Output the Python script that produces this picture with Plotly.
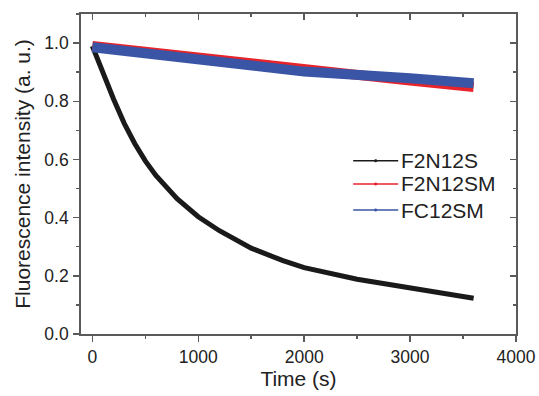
import plotly.graph_objects as go

# ---- data ----
t_black = [0, 100, 200, 300, 400, 500, 600, 800, 1000, 1200, 1500, 1800, 2000, 2500, 3000, 3600]
v_black = [0.99, 0.895, 0.808, 0.725, 0.655, 0.595, 0.545, 0.465, 0.403, 0.355, 0.295, 0.252, 0.228, 0.188, 0.157, 0.123]

t_red = [0, 1000, 2000, 3000, 3600]
v_red = [0.990, 0.948, 0.906, 0.871, 0.849]

t_blue = [0, 1000, 2000, 3000, 3600]
v_blue = [0.986, 0.945, 0.902, 0.879, 0.862]

names = ["F2N12S", "F2N12SM", "FC12SM"]
colors = ["#1a1a1a", "#e8232a", "#3a55a5"]
widths = [5, 10, 10]

x_ticks = [0, 1000, 2000, 3000, 4000]
y_ticks = [0.0, 0.2, 0.4, 0.6, 0.8, 1.0]
y_tick_text = ["0.0", "0.2", "0.4", "0.6", "0.8", "1.0"]

x_range = [-107, 4000]
y_range = [0, 1.10]

series = [(t_black, v_black), (t_red, v_red), (t_blue, v_blue)]

fig = go.Figure()
for i, (tx, vy) in enumerate(series):
    fig.add_trace(go.Scatter(
        x=tx, y=vy, mode="lines", name=names[i],
        line=dict(color=colors[i], width=widths[i]),
        showlegend=False, hoverinfo="skip",
        xaxis="x2" if i == 2 else "x", yaxis="y2" if i == 2 else "y",
    ))

axis_col = "#5a5a5a"
font_fam = "Liberation Sans, Arial, sans-serif"
txt_col = "#222222"

# manual legend (paper coordinates of the plot area)
leg_rows_y = [0.5416, 0.4688, 0.3875]
leg_x0, leg_x1, leg_tx = 0.6257, 0.7292, 0.7300
for i in range(3):
    fig.add_shape(type="line", xref="paper", yref="paper",
                  x0=leg_x0, x1=leg_x1, y0=leg_rows_y[i], y1=leg_rows_y[i],
                  line=dict(color=colors[i], width=1.5))
    xm = (leg_x0 + leg_x1) / 2
    fig.add_shape(type="circle", xref="paper", yref="paper",
                  x0=xm - 0.003, x1=xm + 0.003, y0=leg_rows_y[i] - 0.004, y1=leg_rows_y[i] + 0.004,
                  line=dict(color=colors[i], width=0.5), fillcolor=colors[i])
    fig.add_annotation(xref="paper", yref="paper", x=leg_tx, y=leg_rows_y[i],
                       xanchor="left", yanchor="middle", showarrow=False,
                       text=names[i], font=dict(size=21, color=txt_col, family=font_fam))

fig.update_layout(
    width=539, height=396,
    margin=dict(l=81, r=23, t=14, b=62, autoexpand=False),
    paper_bgcolor="white", plot_bgcolor="white",
    font=dict(family=font_fam, size=17.5, color=txt_col),
    showlegend=False,
    xaxis=dict(
        range=x_range, tickvals=x_ticks, ticks="outside", ticklen=6, tickwidth=1.5,
        tickcolor=axis_col, showline=True, linecolor=axis_col, linewidth=1.8,
        mirror=True, showgrid=False, zeroline=False, ticklabeloverflow="allow", automargin=False,
        minor=dict(dtick=500, tick0=0, ticks="outside", ticklen=3, tickwidth=1.5, tickcolor=axis_col),
        title=dict(text="Time (s)", font=dict(size=21, color=txt_col), standoff=4),
    ),
    yaxis=dict(
        range=y_range, tickvals=y_ticks, ticktext=y_tick_text, ticks="outside", ticklen=6,
        tickwidth=1.5, tickcolor=axis_col, showline=True, linecolor=axis_col, linewidth=1.8,
        mirror=True, showgrid=False, zeroline=False, ticklabelstandoff=1, automargin=False,
        minor=dict(dtick=0.1, tick0=0, ticks="outside", ticklen=3, tickwidth=1.5, tickcolor=axis_col),
        title=dict(text="Fluorescence intensity (a. u.)", font=dict(size=21, color=txt_col), standoff=8),
    ),
    xaxis2=dict(
        range=x_range, overlaying="x", side="top", tickvals=x_ticks, showticklabels=False,
        ticks="inside", ticklen=6, tickwidth=1.5, tickcolor=axis_col, showgrid=False,
        zeroline=False, showline=False, automargin=False,
        minor=dict(dtick=500, tick0=0, ticks="inside", ticklen=3, tickwidth=1.5, tickcolor=axis_col),
    ),
    yaxis2=dict(
        range=y_range, overlaying="y", side="right", tickvals=y_ticks, showticklabels=False,
        ticks="inside", ticklen=6, tickwidth=1.5, tickcolor=axis_col, showgrid=False,
        zeroline=False, showline=False, automargin=False,
        minor=dict(dtick=0.1, tick0=0, ticks="inside", ticklen=3, tickwidth=1.5, tickcolor=axis_col),
    ),
)

fig.write_html("out.html", config={"displayModeBar": False, "staticPlot": True},
               post_script="document.body.style.margin='0';document.body.style.overflow='hidden';")
